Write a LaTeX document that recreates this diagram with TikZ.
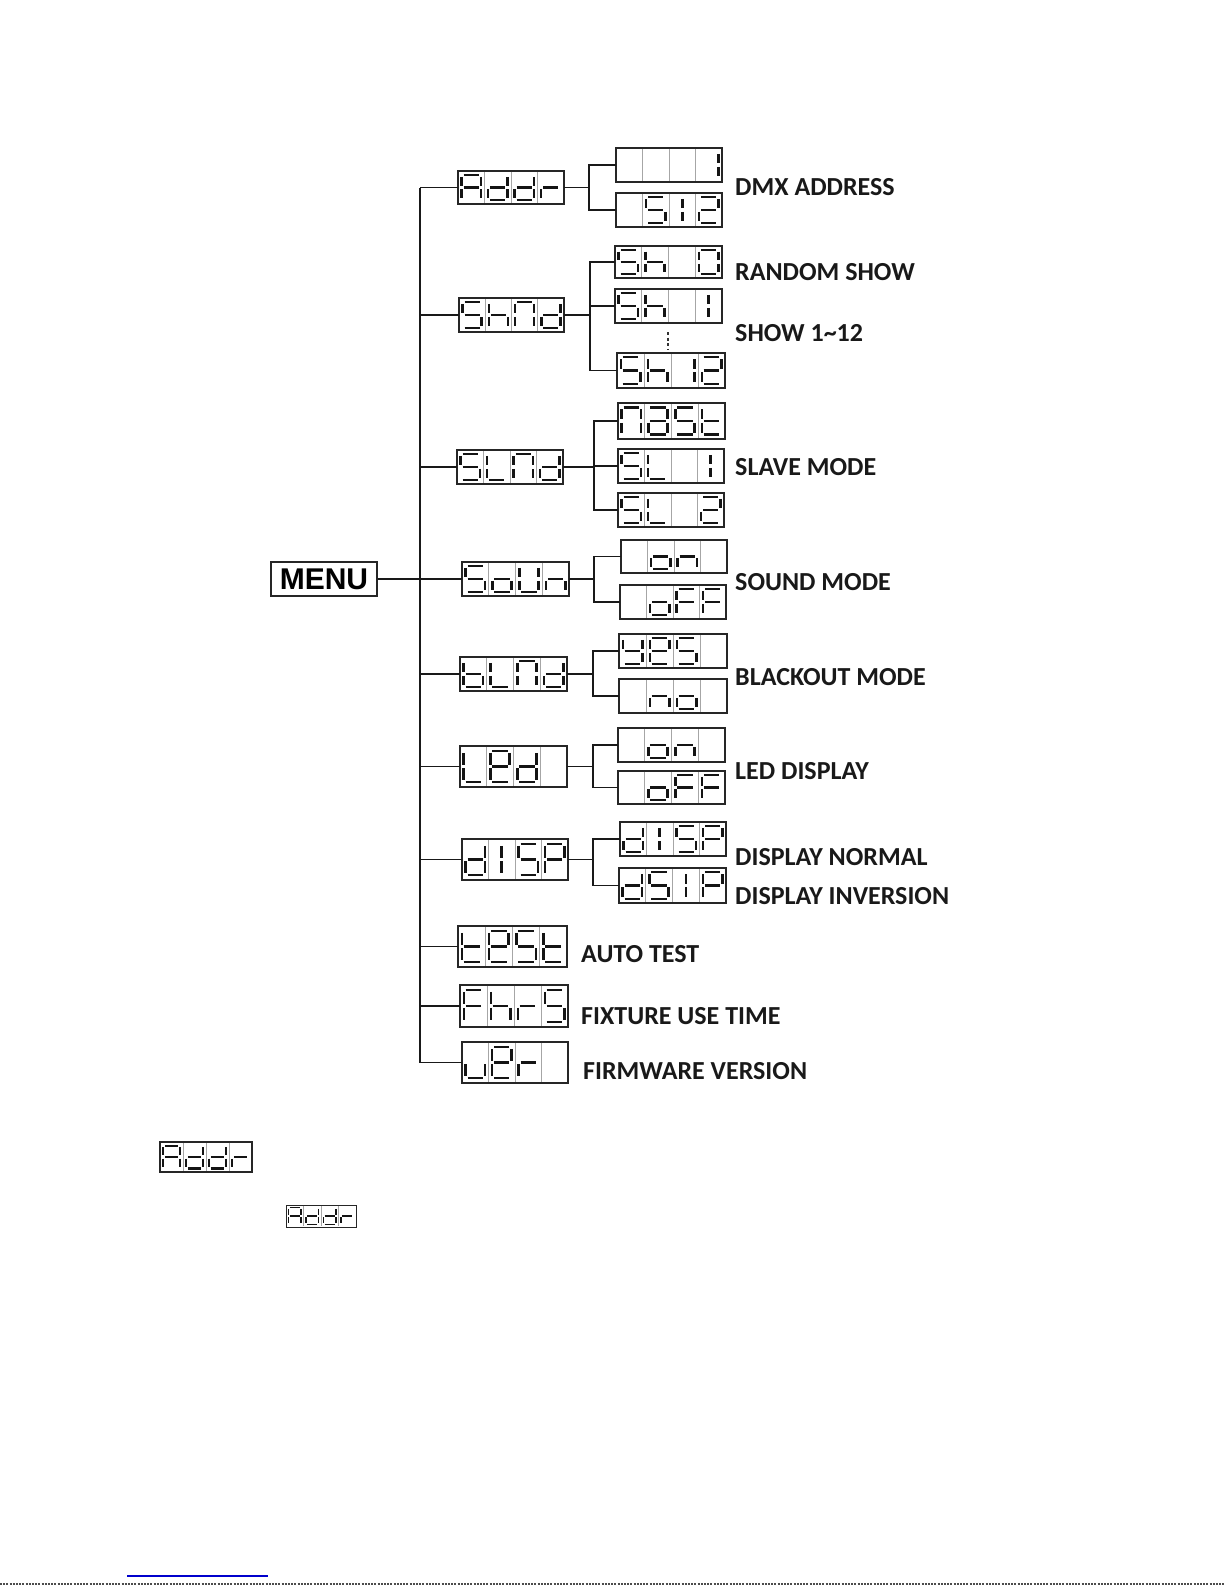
\documentclass[tikz,border=0pt]{standalone}
\usepackage{fontspec}
\newfontfamily\labfont{Carlito}
\newfontfamily\menufont{Liberation Sans}
% seven-segment helpers
\newcommand\sevset[4]{%
  \pgfmathsetmacro\gL{#1+0.14*#3}%
  \pgfmathsetmacro\gR{#1+0.86*#3}%
  \pgfmathsetmacro\gC{#1+0.5*#3}%
  \pgfmathsetmacro\gT{#2+0.12*#4}%
  \pgfmathsetmacro\gB{#2+0.88*#4}%
  \pgfmathsetmacro\gM{(\gT+\gB)/2}%
  \pgfmathsetmacro\gG{0.07*#3}%
  \pgfmathsetmacro\gW{0.095*#3}%
}
\newcommand\sga{\draw[seg] (\gL+\gG,\gT) -- (\gR-\gG,\gT);}
\newcommand\sgb{\draw[seg] (\gR,\gT+\gG) -- (\gR,\gM-\gG);}
\newcommand\sgc{\draw[seg] (\gR,\gM+\gG) -- (\gR,\gB-\gG);}
\newcommand\sgd{\draw[seg] (\gL+\gG,\gB) -- (\gR-\gG,\gB);}
\newcommand\sge{\draw[seg] (\gL,\gM+\gG) -- (\gL,\gB-\gG);}
\newcommand\sgf{\draw[seg] (\gL,\gT+\gG) -- (\gL,\gM-\gG);}
\newcommand\sgg{\draw[seg] (\gL+\gG,\gM) -- (\gR-\gG,\gM);}
\newcommand\sgi{\draw[seg] (\gC,\gT+\gG) -- (\gC,\gM-\gG);}
\newcommand\sgj{\draw[seg] (\gC,\gM+\gG) -- (\gC,\gB-\gG);}
\newcommand\defglyph[2]{\expandafter\def\csname gly#1\endcsname{\foreach \segn in {#2}{\csname sg\segn\endcsname}}}
\defglyph{A}{a,b,c,e,f,g}
\defglyph{d}{b,c,d,e,g}
\defglyph{r}{e,g}
\defglyph{1}{b,c}
\defglyph{I}{i,j}
\defglyph{S}{a,f,g,c,d}
\defglyph{2}{a,b,g,e,d}
\defglyph{h}{f,e,g,c}
\defglyph{N}{a,b,c,e,f}
\defglyph{0}{a,b,c,d,e,f}
\defglyph{a}{a,b,c,d,e,g}
\defglyph{t}{f,e,g,d}
\defglyph{L}{f,e,d}
\defglyph{o}{g,c,d,e}
\defglyph{U}{b,c,d,e,f}
\defglyph{n}{e,g,c}
\defglyph{b}{f,e,d,c,g}
\defglyph{E}{a,b,f,g,e,d}
\defglyph{P}{a,b,f,g,e}
\defglyph{F}{a,f,g,e}
\defglyph{y}{f,b,g,c,d}
\defglyph{u}{e,d,c}
\expandafter\def\csname gly-\endcsname{}
% display box: [style] name, x, y, w, h, glyphs
\newcommand\dispbox[7][]{%
  \node[dispnode,#1,minimum width=#5pt,minimum height=#6pt] (#2) at ({#3+#5/2},{#4+#6/2}) {};
  \foreach \gch [count=\ci from 0] in {#7}{%
    \pgfmathsetmacro\cx{#3+\ci*#5/4}%
    \pgfmathsetmacro\cw{#5/4}%
    \ifnum\ci>0 \draw[celldiv] (\cx,#4+0.8) -- (\cx,#4+#6-0.8);\fi
    \sevset{\cx}{#4}{\cw}{#6}%
    \csname gly\gch\endcsname
  }%
}
\begin{document}
\begin{tikzpicture}[x=1pt,y=-1pt,
  dispnode/.style={draw=black!85,line width=1.4pt,inner sep=0pt,outer sep=0pt,rectangle,fill=white},
  celldiv/.style={draw=black!35,line width=0.8pt},
  seg/.style={draw=black!92,line width=\gW pt},
  trunkline/.style={draw=black!90,line width=2.2pt},
  branch/.style={draw=black!90,line width=1.3pt},
  lab/.style={anchor=base west,inner sep=0pt,font=\labfont\bfseries\fontsize{26}{30}\selectfont,text=black!90}]
\useasboundingbox (0,0) rectangle (1225,1585);

% MENU
\node[draw=black!85,line width=1.3pt,minimum width=106pt,minimum height=34pt,inner sep=0pt,
  font=\menufont\bfseries\fontsize{30}{34}\selectfont] (menu) at (324,579) {MENU};

% first level
\dispbox{addr}{458}{171}{106}{33}{A,d,d,r}
\dispbox{shnd}{459}{298}{105}{34}{S,h,N,d}
\dispbox{slnd}{457}{450}{106}{34}{S,L,N,d}
\dispbox{soun}{462}{562}{107}{34}{S,o,U,n}
\dispbox{blnd}{460}{657}{107}{34}{b,L,N,d}
\dispbox{led}{460}{746}{107}{41}{L,E,d,-}
\dispbox{disp}{462}{839}{106}{41}{d,I,S,P}
\dispbox{test}{458}{926}{109}{41}{t,E,S,t}
\dispbox{fhrs}{460}{985}{108}{42}{F,h,r,S}
\dispbox{uer}{462}{1042}{106}{41}{u,E,r,-}

% second level
\dispbox{one}{616}{148}{106}{34}{-,-,-,1}
\dispbox{sfzt}{616}{193}{106}{34}{-,S,I,2}
\dispbox{sho}{615}{246}{107}{32}{S,h,-,0}
\dispbox{shi}{615}{289}{107}{34}{S,h,-,I}
\dispbox{shxii}{617}{353}{108}{35}{S,h,1,2}
\dispbox{nast}{618}{403}{107}{36}{N,a,S,t}
\dispbox{sli}{618}{449}{106}{34}{S,L,-,I}
\dispbox{slii}{618}{493}{106}{34}{S,L,-,2}
\dispbox[line width=2.4pt]{son}{621}{540}{106}{33}{-,o,n,-}
\dispbox{soff}{620}{585}{106}{34}{-,o,F,F}
\dispbox{yes}{619}{634}{108}{34}{y,E,S,-}
\dispbox{no}{619}{679}{108}{34}{-,n,o,-}
\dispbox{lon}{618}{728}{107}{34}{-,o,n,-}
\dispbox{loff}{618}{771}{107}{33}{-,o,F,F}
\dispbox{dn}{620}{822}{106}{34}{d,I,S,P}
\dispbox{di}{619}{868}{107}{35}{d,S,I,P}

% bottom sample displays
\dispbox{addrbig}{160}{1142}{92}{30}{A,d,d,r}
\dispbox[line width=1pt]{addrsmall}{286}{1205}{70}{22}{A,d,d,r}

% trunk
\coordinate (tr) at (420,0);
\draw[trunkline] (addr.west -| tr) -- (uer.west -| tr);
\draw[branch] (menu.east) -- (menu.east -| tr);
\foreach \n in {addr,shnd,slnd,soun,blnd,led,disp,test,fhrs,uer}
  \draw[branch] (\n.west) -- (\n.west -| tr);

% branches
\path (addr.east) ++(25,0) coordinate (ba);
\draw[branch] (addr.east) -- (ba);
\draw[branch] (one.west) -| (ba) |- (sfzt.west);

\path (shnd.east) ++(26,0) coordinate (bs);
\draw[branch] (shnd.east) -- (bs);
\draw[branch] (sho.west) -| (bs) |- (shxii.west);
\draw[branch] (shi.west) -- (shi.west -| bs);

\path (slnd.east) ++(31,0) coordinate (bl);
\draw[branch] (slnd.east) -- (bl);
\draw[branch] (nast.west) -| (bl) |- (slii.west);
\draw[branch] (sli.west) -- (sli.west -| bl);

\path (soun.east) ++(25,0) coordinate (bo);
\draw[branch] (soun.east) -- (bo);
\draw[branch] (son.west) -| (bo) |- (soff.west);

\path (blnd.east) ++(26,0) coordinate (bb);
\draw[branch] (blnd.east) -- (bb);
\draw[branch] (yes.west) -| (bb) |- (no.west);

\path (led.east) ++(26,0) coordinate (bd);
\draw[branch] (led.east) -- (bd);
\draw[branch] (lon.west) -| (bd) |- (loff.west);

\path (disp.east) ++(25,0) coordinate (bp);
\draw[branch] (disp.east) -- (bp);
\draw[branch] (dn.west) -| (bp) |- (di.west);

% vertical ellipsis between Sh 1 and Sh 12
\draw[line width=1.4pt,draw=black!80,dash pattern=on 3pt off 2.6pt] (668,332) -- (668,349);

% labels
\node[lab] (l1) at (735,195.5) {DMX ADDRESS};
\node[lab] (l2) at (735,280) {RANDOM SHOW};
\node[lab] (l3) at (735,341) {SHOW 1\char"007E 12};
\node[lab] (l4) at (735,475) {SLAVE MODE};
\node[lab] (l5) at (735,590) {SOUND MODE};
\node[lab] (l6) at (735,685) {BLACKOUT MODE};
\node[lab] (l7) at (735,779) {LED DISPLAY};
\node[lab] (l8) at (735,865) {DISPLAY NORMAL};
\node[lab] (l9) at (735,904) {DISPLAY INVERSION};
\node[lab] (l10) at (581,962) {AUTO TEST};
\node[lab] (l11) at (581,1024) {FIXTURE USE TIME};
\node[lab] (l12) at (583,1079) {FIRMWARE VERSION};

% page artefacts at the bottom
\draw[draw=blue!80!black,line width=1.6pt] (127,1576) -- (268,1576);
\draw[draw=black!70,line width=1.5pt,dash pattern=on 2pt off 1.2pt] (0,1584) -- (1225,1584);
\end{tikzpicture}
\end{document}
